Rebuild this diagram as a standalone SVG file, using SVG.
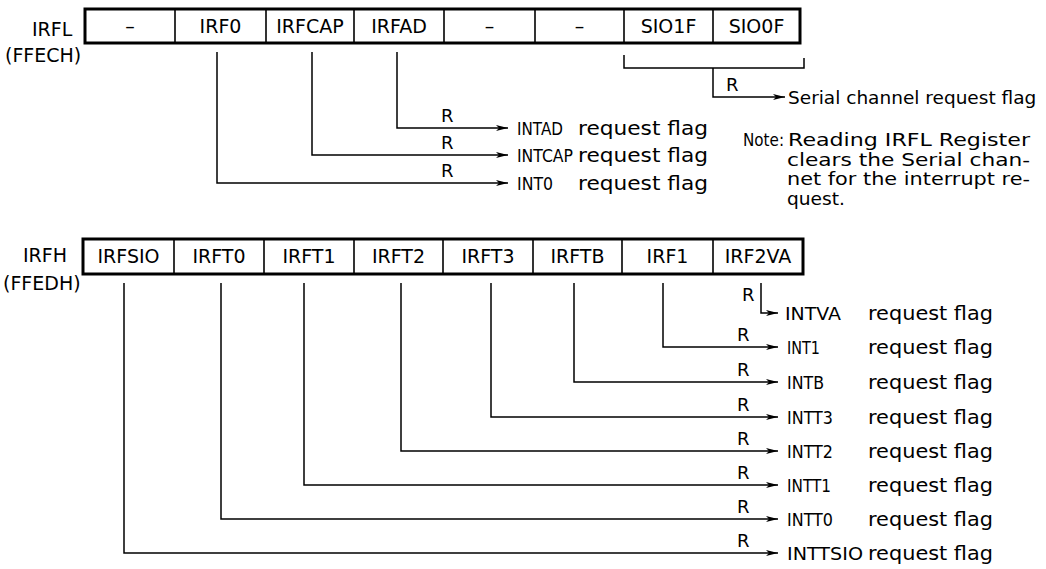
<svg xmlns="http://www.w3.org/2000/svg" width="1046" height="569" viewBox="0 0 1046 569">
<style>
text{font-family:"DejaVu Sans","Liberation Sans",sans-serif;fill:#000}
.cell{font-size:19px;text-anchor:middle}
.lbl{font-size:19px}
.t{font-size:20px}
.s{font-size:18.5px}
.c{font-size:18.5px}
.n{font-size:17px}
.r{font-size:18px}
.box{fill:#fff;stroke:#000;stroke-width:3}
.div{stroke:#000;stroke-width:1.6}
.ln{fill:none;stroke:#000;stroke-width:1.5}
.ar{fill:none;stroke:#000;stroke-width:1.5;marker-end:url(#ah)}
</style>
<defs>
<marker id="ah" viewBox="0 0 12 6" refX="12" refY="3" markerWidth="12" markerHeight="6" markerUnits="userSpaceOnUse" orient="auto">
<path d="M0,0 L12,3 L0,6 L3,3 Z" fill="#000"/>
</marker>
</defs>

<g id="irfl">
<text class="lbl" x="32" y="36">IRFL</text>
<text class="lbl" x="5" y="62">(FFECH)</text>
<rect class="box" x="85" y="9" width="715" height="34"/>
<g class="div">
<line x1="175" y1="9" x2="175" y2="43"/><line x1="266" y1="9" x2="266" y2="43"/>
<line x1="354" y1="9" x2="354" y2="43"/><line x1="444" y1="9" x2="444" y2="43"/>
<line x1="535" y1="9" x2="535" y2="43"/><line x1="624" y1="9" x2="624" y2="43"/>
<line x1="713" y1="9" x2="713" y2="43"/>
</g>
<text class="cell" x="130" y="33">–</text>
<text class="cell" x="220.5" y="33">IRF0</text>
<text class="cell" x="310" y="33">IRFCAP</text>
<text class="cell" x="399" y="33">IRFAD</text>
<text class="cell" x="489.5" y="33">–</text>
<text class="cell" x="579.5" y="33">–</text>
<text class="cell" x="668.5" y="33">SIO1F</text>
<text class="cell" x="756.5" y="33">SIO0F</text>
</g>

<g id="irfh">
<text class="lbl" x="23" y="262">IRFH</text>
<text class="lbl" x="3" y="290">(FFEDH)</text>
<rect class="box" x="83" y="239" width="720" height="35"/>
<g class="div">
<line x1="174" y1="239" x2="174" y2="274"/><line x1="264" y1="239" x2="264" y2="274"/>
<line x1="354" y1="239" x2="354" y2="274"/><line x1="443" y1="239" x2="443" y2="274"/>
<line x1="533" y1="239" x2="533" y2="274"/><line x1="622" y1="239" x2="622" y2="274"/>
<line x1="713" y1="239" x2="713" y2="274"/>
</g>
<text class="cell" x="128.5" y="263">IRFSIO</text>
<text class="cell" x="219" y="263">IRFT0</text>
<text class="cell" x="309" y="263">IRFT1</text>
<text class="cell" x="398.5" y="263">IRFT2</text>
<text class="cell" x="488" y="263">IRFT3</text>
<text class="cell" x="577.5" y="263">IRFTB</text>
<text class="cell" x="667.5" y="263">IRF1</text>
<text class="cell" x="758" y="263">IRF2VA</text>
</g>

<g id="connectors">
<path class="ln" d="M624,55 V68 H804 V58"/>
<path class="ar" d="M713,68 V97 H785"/>
<path class="ar" d="M397,52 V128 H508"/>
<path class="ar" d="M312,52 V155 H508"/>
<path class="ar" d="M217,52 V183 H508"/>
<path class="ar" d="M761,283 V313 H778"/>
<path class="ar" d="M663,283 V347 H778"/>
<path class="ar" d="M574,283 V382 H778"/>
<path class="ar" d="M491,283 V417 H778"/>
<path class="ar" d="M401,283 V451 H778"/>
<path class="ar" d="M304,283 V485 H778"/>
<path class="ar" d="M221,283 V519 H778"/>
<path class="ar" d="M124,283 V553 H778"/>
</g>

<g id="serial-label">
<text class="r" x="726" y="91">R</text>
<text class="s" x="788" y="104">Serial channel request flag</text>
</g>

<g id="top-flags">
<text class="r" x="441" y="122">R</text>
<text class="c" x="517" y="135" textLength="46" lengthAdjust="spacingAndGlyphs">INTAD</text>
<text class="t" x="578" y="135" textLength="130" lengthAdjust="spacingAndGlyphs">request flag</text>
<text class="r" x="441" y="149">R</text>
<text class="c" x="517" y="162" textLength="56" lengthAdjust="spacingAndGlyphs">INTCAP</text>
<text class="t" x="578" y="162" textLength="130" lengthAdjust="spacingAndGlyphs">request flag</text>
<text class="r" x="441" y="177">R</text>
<text class="c" x="517" y="190" textLength="36" lengthAdjust="spacingAndGlyphs">INT0</text>
<text class="t" x="578" y="190" textLength="130" lengthAdjust="spacingAndGlyphs">request flag</text>
</g>

<g id="note">
<text class="n" x="743" y="146" textLength="41" lengthAdjust="spacingAndGlyphs">Note:</text>
<text class="n" x="788" y="146" textLength="242" lengthAdjust="spacingAndGlyphs">Reading IRFL Register</text>
<text class="n" x="787" y="165.5" textLength="243" lengthAdjust="spacingAndGlyphs">clears the Serial chan-</text>
<text class="n" x="787" y="185" textLength="243" lengthAdjust="spacingAndGlyphs">net for the interrupt re-</text>
<text class="n" x="787" y="204.5" textLength="58" lengthAdjust="spacingAndGlyphs">quest.</text>
</g>

<g id="bottom-flags">
<text class="r" x="742" y="301">R</text>
<text class="c" x="785" y="320" textLength="56" lengthAdjust="spacingAndGlyphs">INTVA</text>
<text class="t" x="868" y="320" textLength="125" lengthAdjust="spacingAndGlyphs">request flag</text>
<text class="r" x="737" y="341">R</text>
<text class="c" x="787" y="354" textLength="33" lengthAdjust="spacingAndGlyphs">INT1</text>
<text class="t" x="868" y="354" textLength="125" lengthAdjust="spacingAndGlyphs">request flag</text>
<text class="r" x="737" y="376">R</text>
<text class="c" x="787" y="389" textLength="37" lengthAdjust="spacingAndGlyphs">INTB</text>
<text class="t" x="868" y="389" textLength="125" lengthAdjust="spacingAndGlyphs">request flag</text>
<text class="r" x="737" y="411">R</text>
<text class="c" x="787" y="424" textLength="46" lengthAdjust="spacingAndGlyphs">INTT3</text>
<text class="t" x="868" y="424" textLength="125" lengthAdjust="spacingAndGlyphs">request flag</text>
<text class="r" x="737" y="445">R</text>
<text class="c" x="787" y="458" textLength="46" lengthAdjust="spacingAndGlyphs">INTT2</text>
<text class="t" x="868" y="458" textLength="125" lengthAdjust="spacingAndGlyphs">request flag</text>
<text class="r" x="737" y="479">R</text>
<text class="c" x="787" y="492" textLength="44" lengthAdjust="spacingAndGlyphs">INTT1</text>
<text class="t" x="868" y="492" textLength="125" lengthAdjust="spacingAndGlyphs">request flag</text>
<text class="r" x="737" y="513">R</text>
<text class="c" x="787" y="526" textLength="46" lengthAdjust="spacingAndGlyphs">INTT0</text>
<text class="t" x="868" y="526" textLength="125" lengthAdjust="spacingAndGlyphs">request flag</text>
<text class="r" x="737" y="547">R</text>
<text class="c" x="787" y="560" textLength="76" lengthAdjust="spacingAndGlyphs">INTTSIO</text>
<text class="t" x="868" y="560" textLength="125" lengthAdjust="spacingAndGlyphs">request flag</text>
</g>
</svg>
